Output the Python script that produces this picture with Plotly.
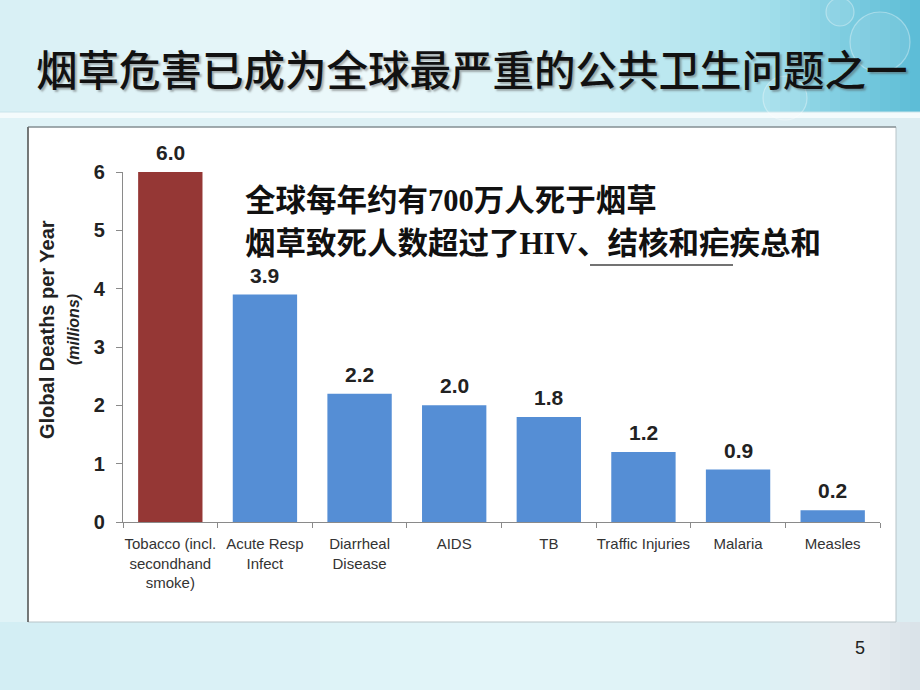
import plotly.graph_objects as go

categories = ["Tobacco (incl.<br>secondhand<br>smoke)", "Acute Resp<br>Infect", "Diarrheal<br>Disease",
              "AIDS", "TB", "Traffic Injuries", "Malaria", "Measles"]
values = [6.0, 3.9, 2.2, 2.0, 1.8, 1.2, 0.9, 0.2]
value_labels = ["6.0", "3.9", "2.2", "2.0", "1.8", "1.2", "0.9", "0.2"]
bar_colors = ["#953735"] + ["#558ed5"] * 7
y_ticks = [0, 1, 2, 3, 4, 5, 6]

title_text = "烟草危害已成为全球最严重的公共卫生问题之一"
note_line1 = "全球每年约有700万人死于烟草"
note_line2 = "烟草致死人数超过了HIV、结核和疟疾总和"

W, H = 920, 690
L, R, T, B = 123, 880, 172, 522  # plot area in pixels


def px(x):
    return (x - L) / (R - L)


def py(y):
    return (B - y) / (B - T)


def lerp_color(c1, c2, t):
    a = [int(c1[i:i + 2], 16) for i in (1, 3, 5)]
    b = [int(c2[i:i + 2], 16) for i in (1, 3, 5)]
    return "#" + "".join(f"{int(round(a[k] + (b[k] - a[k]) * t)):02x}" for k in range(3))


shapes = []
stops_top = [(0, "#d8f0f5"), (380, "#eef9fb"), (560, "#d4f0f5"), (760, "#a6e0ec"), (920, "#5bbcd6")]
stops_bot = [(0, "#d3eef4"), (500, "#e3f5f9"), (760, "#dcf1f5"), (860, "#e6ecf0"), (920, "#d9e2e8")]
stops_mid = [(0, "#e0f3f7"), (920, "#dcedf2")]


def color_at(stops, x):
    for (x0, c0), (x1, c1) in zip(stops[:-1], stops[1:]):
        if x0 <= x <= x1:
            return lerp_color(c0, c1, (x - x0) / (x1 - x0))
    return stops[-1][1]


step = 10
for xs in range(0, W, step):
    xc = xs + step / 2
    shapes.append(dict(type="rect", xref="paper", yref="paper", layer="below",
                       x0=px(xs), x1=px(xs + step + 0.5), y0=py(0), y1=py(113),
                       fillcolor=color_at(stops_top, xc), line=dict(width=0)))
    shapes.append(dict(type="rect", xref="paper", yref="paper", layer="below",
                       x0=px(xs), x1=px(xs + step + 0.5), y0=py(113), y1=py(622),
                       fillcolor=color_at(stops_mid, xc), line=dict(width=0)))
    shapes.append(dict(type="rect", xref="paper", yref="paper", layer="below",
                       x0=px(xs), x1=px(xs + step + 0.5), y0=py(622), y1=py(H),
                       fillcolor=color_at(stops_bot, xc), line=dict(width=0)))

shapes.append(dict(type="rect", xref="paper", yref="paper", layer="below",
                   x0=px(0), x1=px(W), y0=py(112), y1=py(118),
                   fillcolor="#f4fbfc", line=dict(width=0)))
shapes.append(dict(type="line", xref="paper", yref="paper", layer="below",
                   x0=px(0), x1=px(W), y0=py(112), y1=py(112),
                   line=dict(color="#c9e4ea", width=1)))
for cx, cy, r in [(880, 42, 30), (785, 98, 22), (840, 12, 14)]:
    shapes.append(dict(type="circle", xref="paper", yref="paper", layer="below",
                       x0=px(cx - r), x1=px(cx + r), y0=py(cy - r), y1=py(cy + r),
                       fillcolor="rgba(255,255,255,0.10)",
                       line=dict(color="rgba(255,255,255,0.35)", width=1.2)))

shapes.append(dict(type="rect", xref="paper", yref="paper", layer="below",
                   x0=px(28), x1=px(896), y0=py(127), y1=py(622),
                   fillcolor="#ffffff", line=dict(color="#b8c4c8", width=1)))
shapes.append(dict(type="line", xref="paper", yref="paper", layer="below",
                   x0=px(28), x1=px(28), y0=py(127), y1=py(622),
                   line=dict(color="#555555", width=1.5)))
shapes.append(dict(type="line", xref="paper", yref="paper", layer="below",
                   x0=px(28), x1=px(896), y0=py(127), y1=py(127),
                   line=dict(color="#6a7478", width=1.2)))
shapes.append(dict(type="line", xref="paper", yref="paper",
                   x0=px(590), x1=px(733), y0=py(265), y1=py(265),
                   line=dict(color="#444444", width=1.5)))

fig = go.Figure()
fig.add_trace(go.Bar(x=categories, y=values, marker=dict(color=bar_colors, line=dict(width=0)),
                     width=0.68, hoverinfo="x+y"))

annotations = []
for c, v, t in zip(categories, values, value_labels):
    annotations.append(dict(x=c, y=v, xref="x", yref="y", text=t, showarrow=False,
                            yanchor="bottom", yshift=6,
                            font=dict(family="Arial, Liberation Sans", size=21, color="#222222", weight="bold")))

annotations += [
    dict(x=px(472), y=py(68), xref="paper", yref="paper", text=title_text, showarrow=False,
         xanchor="center", yanchor="middle",
         font=dict(family="Noto Sans CJK SC", size=41.5, color="#111111", weight=500,
                   shadow="2px 2px 2px rgba(80,80,80,0.45)")),
    dict(x=px(243), y=py(201), xref="paper", yref="paper", text=note_line1, showarrow=False,
         xanchor="left", yanchor="middle",
         font=dict(family="Liberation Serif, Noto Sans CJK SC", size=30.5, color="#111111", weight="bold")),
    dict(x=px(243), y=py(244), xref="paper", yref="paper", text=note_line2, showarrow=False,
         xanchor="left", yanchor="middle",
         font=dict(family="Liberation Serif, Noto Sans CJK SC", size=30.5, color="#111111", weight="bold")),
    dict(x=px(47), y=py(330), xref="paper", yref="paper", text="Global Deaths per Year", showarrow=False,
         textangle=-90, xanchor="center", yanchor="middle",
         font=dict(family="Arial, Liberation Sans", size=20, color="#222222", weight="bold")),
    dict(x=px(73), y=py(330), xref="paper", yref="paper", text="(millions)", showarrow=False,
         textangle=-90, xanchor="center", yanchor="middle",
         font=dict(family="Arial, Liberation Sans", size=16, color="#222222", style="italic", weight="bold")),
    dict(x=px(860), y=py(648), xref="paper", yref="paper", text="5", showarrow=False,
         xanchor="center", yanchor="middle",
         font=dict(family="Arial, Liberation Sans", size=18, color="#222222")),
]

fig.update_layout(
    width=W, height=H,
    margin=dict(l=L, r=W - R, t=T, b=H - B, pad=0),
    paper_bgcolor="#e3f4f8", plot_bgcolor="rgba(0,0,0,0)",
    showlegend=False, bargap=0.32,
    shapes=shapes, annotations=annotations,
    xaxis=dict(showline=True, linecolor="#8a8a8a", linewidth=1.2, ticks="outside", tickson="boundaries",
               ticklen=5, tickcolor="#8a8a8a", tickwidth=1.2, showgrid=False, tickangle=0,
               ticklabelstandoff=8,
               tickfont=dict(family="Arial, Liberation Sans", size=15, color="#333333")),
    yaxis=dict(range=[0, 6], tickvals=y_ticks, showline=True, linecolor="#8a8a8a", linewidth=1.2,
               ticks="outside", ticklen=6, tickcolor="#8a8a8a", tickwidth=1.2, showgrid=False,
               zeroline=False, ticklabelstandoff=7,
               tickfont=dict(family="Arial, Liberation Sans", size=20, color="#222222", weight="bold")),
)

fig.write_html("out.html")
